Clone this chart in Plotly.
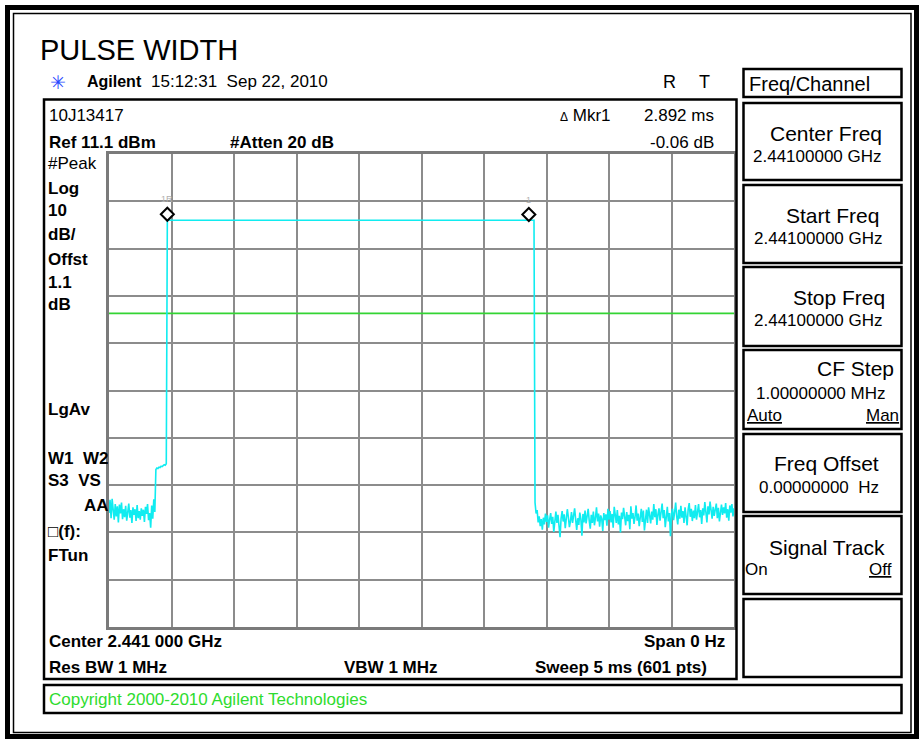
import plotly.graph_objects as go

# ---------------------------------------------------------------------------
# Analyzer settings shown on the screen
# ---------------------------------------------------------------------------
SWEEP_MS = 5.0
SWEEP_POINTS = 601
REF_LEVEL_DBM = 11.1
DB_PER_DIV = 10.0
DIVISIONS = 10

# Zero-span trace, dBm per sweep point, in order of time
PRE_PULSE_NOISE = [
    -64.8, -62.0, -65.9, -61.8, -64.1, -66.2, -62.9, -65.5, -63.4, -66.8,
    -63.0, -64.9, -62.6, -66.1, -64.0, -65.7, -63.3, -66.4, -64.6, -62.8,
    -65.8, -64.2, -66.9, -63.6, -65.2, -64.0, -66.5, -63.1, -65.9, -64.4,
    -66.2, -63.8, -65.4, -64.1, -66.7, -63.5, -65.0, -62.9, -66.3, -64.8,
    -67.9, -63.2, -66.0, -61.9, -64.6,
]
PRE_PULSE_STEP = [
    -55.6, -55.3, -55.4, -55.1, -55.2, -54.9, -55.0, -54.8, -54.6, -54.7, -54.4,
]
PULSE_TOP_DBM = -2.9
PULSE_TOP_SAMPLES = 353
POST_PULSE_NOISE = [
    -62.6, -64.9, -64.2, -66.8, -65.5, -67.6, -66.1, -68.3, -65.8, -67.2, -64.9, -66.7,
    -65.3, -67.9, -66.2, -64.8, -67.1, -65.6, -68.8, -66.4, -64.5, -66.9, -65.2, -67.5,
    -69.9, -66.0, -64.4, -66.6, -65.1, -68.0, -66.3, -64.0, -65.7, -67.8, -66.5, -64.6,
    -66.9, -65.4, -63.8, -66.2, -68.4, -65.9, -67.3, -64.7, -66.1, -69.6, -65.0, -66.8,
    -64.3, -67.0, -65.5, -63.9, -66.4, -68.1, -65.2, -66.9, -64.5, -67.4, -65.8, -63.6,
    -66.6, -64.9, -67.7, -65.3, -66.0, -68.6, -64.8, -66.3, -65.1, -67.5, -63.9, -66.2,
    -64.4, -66.8, -65.0, -67.9, -63.5, -65.7, -66.9, -64.2, -67.2, -65.4, -68.9, -64.7,
    -66.1, -63.7, -65.9, -67.4, -64.6, -66.5, -65.2, -68.2, -63.4, -66.0, -64.8, -67.1,
    -65.6, -63.2, -66.4, -64.9, -67.6, -65.0, -63.9, -66.7, -64.3, -68.5, -65.8, -64.1,
    -66.9, -63.6, -65.3, -67.0, -64.5, -66.2, -62.9, -65.7, -64.0, -67.3, -65.1, -63.8,
    -66.4, -64.7, -62.8, -65.9, -64.2, -67.8, -65.4, -63.5, -66.6, -64.8, -69.7, -65.0,
    -63.9, -66.3, -64.6, -62.6, -65.5, -67.2, -64.1, -66.0, -63.3, -65.8, -64.4, -66.9,
    -63.6, -65.2, -67.4, -64.0, -62.7, -65.6, -63.9, -66.5, -64.3, -65.9, -63.1, -66.2,
    -64.9, -62.9, -65.7, -64.2, -67.1, -63.8, -65.3, -62.5, -64.6, -66.8, -63.4, -65.1,
    -62.4, -64.8, -66.0, -63.5, -65.4, -64.1, -62.8, -65.9, -63.7, -66.6, -64.3, -63.0,
    -65.2, -63.6, -64.9, -62.7, -65.8, -64.0, -66.4, -63.2, -64.7, -62.9, -65.5, -63.8,
]

DISPLAY_LINE_DBM = -22.6

# Delta marker pair
MARKER_REF_INDEX = 56
MARKER_DELTA_MS = 2.892
MARKER_DELTA_DB = -0.06

# ---------------------------------------------------------------------------
trace_dbm = PRE_PULSE_NOISE + PRE_PULSE_STEP + [PULSE_TOP_DBM] * PULSE_TOP_SAMPLES + POST_PULSE_NOISE
time_ms = [i * SWEEP_MS / (SWEEP_POINTS - 1) for i in range(len(trace_dbm))]
bottom_dbm = REF_LEVEL_DBM - DB_PER_DIV * DIVISIONS

W, H = 923, 740
GRID_L, GRID_R, GRID_T, GRID_B = 109, 734, 154, 627
FONT = "Arial, 'Liberation Sans', sans-serif"


def X(px):
    return px / W


def Y(py):
    return 1 - py / H


shapes = []
annotations = []


def rect(x0, y0, x1, y1, width=2.5, color="black"):
    shapes.append(dict(type="rect", xref="paper", yref="paper",
                       x0=X(x0), x1=X(x1), y0=Y(y1), y1=Y(y0),
                       line=dict(color=color, width=width), fillcolor="rgba(0,0,0,0)",
                       layer="above"))


def txt(x, y, s, size=17, bold=False, anchor="left", color="black", width=None, family=FONT):
    annotations.append(dict(
        xref="paper", yref="paper", x=X(x), y=Y(y),
        text=f"<b>{s}</b>" if bold else s, showarrow=False,
        xanchor=anchor, yanchor="middle", align=anchor if anchor != "center" else "center",
        font=dict(family=family, size=size, color=color),
        borderpad=0, width=width,
    ))


fig = go.Figure()

# display line
fig.add_trace(go.Scatter(
    x=[0, SWEEP_MS], y=[DISPLAY_LINE_DBM, DISPLAY_LINE_DBM], mode="lines",
    line=dict(color="#33d433", width=1.6), hoverinfo="skip", showlegend=False))

# measured trace
fig.add_trace(go.Scatter(
    x=time_ms, y=trace_dbm, mode="lines",
    line=dict(color="#10ecf0", width=1.6), hoverinfo="skip", showlegend=False))

# delta markers (diamonds sit just above the trace point)
grid_h_px = GRID_B - GRID_T
lift_db = 6 * (DB_PER_DIV * DIVISIONS) / grid_h_px
t_ref = time_ms[MARKER_REF_INDEX]
y_ref = trace_dbm[MARKER_REF_INDEX]
t_mk1 = t_ref + MARKER_DELTA_MS
y_mk1 = y_ref + MARKER_DELTA_DB
fig.add_trace(go.Scatter(
    x=[t_ref, t_mk1], y=[y_ref + lift_db, y_mk1 + lift_db], mode="markers",
    marker=dict(symbol="diamond", size=10, color="white", line=dict(color="black", width=2)),
    hoverinfo="skip", showlegend=False))
for t, yv, lab in [(t_ref, y_ref, "1R"), (t_mk1, y_mk1, "1")]:
    annotations.append(dict(xref="x", yref="y", x=t, y=yv + lift_db, text=lab,
                            showarrow=False, yshift=15, xanchor="center", yanchor="middle",
                            font=dict(family=FONT, size=9, color="#b0b0b0")))

# ---------------------------------------------------------------------------
# Frames and boxes
# ---------------------------------------------------------------------------
rect(7.5, 7.5, 916.5, 736.5, width=5)
rect(13.5, 13.5, 911, 732.5, width=1.5)
rect(44, 99.5, 736.5, 679)            # measurement window
rect(44, 685, 901.5, 713)             # status line
for y0, y1 in [(69, 97), (103, 180), (185, 263), (267, 346), (350, 429),
               (434, 512), (516, 594), (599, 677)]:
    rect(743.5, y0, 901.5, y1, width=2.5)

# ---------------------------------------------------------------------------
# Screen text
# ---------------------------------------------------------------------------
txt(39, 50, "PULSE WIDTH", size=29)
txt(49, 82, "✳", size=19, color="#2a48ff", family="DejaVu Sans")
txt(86, 82, "Agilent", size=16, bold=True)
txt(150, 82, "15:12:31  Sep 22, 2010", size=17)
txt(662, 82, "R", size=18)
txt(698, 82, "T", size=18)

txt(48, 116, "10J13417", size=17)
txt(48, 142, "Ref 11.1 dBm", size=17, bold=True)
txt(229, 142, "#Atten 20 dB", size=17, bold=True)
txt(612, 116, "<span style='font-size:12px'>Δ</span> Mkr1", size=17, anchor="right")
txt(715, 116, "2.892 ms", size=17, anchor="right")
txt(715, 142, "-0.06 dB", size=17, anchor="right")

txt(47, 164, "#Peak", size=17)
for yy, s in [(188, "Log"), (211, "10"), (235, "dB/"), (259, "Offst"), (282, "1.1"),
              (304, "dB"), (409, "LgAv")]:
    txt(47, yy, s, size=17, bold=True)
txt(47, 458, "W1  W2", size=17, bold=True, width=60)
txt(47, 480, "S3  VS", size=17, bold=True, width=60)
txt(83, 505, "AA", size=17, bold=True)
txt(47, 531, "□(f):", size=17, bold=True)
txt(47, 555, "FTun", size=17, bold=True)

txt(48, 641, "Center 2.441 000 GHz", size=17, bold=True)
txt(726, 641, "Span 0 Hz", size=17, bold=True, anchor="right")
txt(48, 667, "Res BW 1 MHz", size=17, bold=True)
txt(343, 667, "VBW 1 MHz", size=17, bold=True)
txt(708, 667, "Sweep 5 ms (601 pts)", size=17, bold=True, anchor="right")
txt(48, 699, "Copyright 2000-2010 Agilent Technologies", size=17, color="#2edc2e")

# soft keys
txt(748, 84, "Freq/Channel", size=20)
txt(883, 133, "Center Freq", size=21, anchor="right")
txt(883, 156, "2.44100000 GHz", size=17, anchor="right")
txt(880, 215, "Start Freq", size=21, anchor="right")
txt(884, 238, "2.44100000 GHz", size=17, anchor="right")
txt(886, 297, "Stop Freq", size=21, anchor="right")
txt(884, 320, "2.44100000 GHz", size=17, anchor="right")
txt(895, 368, "CF Step", size=21, anchor="right")
txt(886, 393, "1.00000000 MHz", size=17, anchor="right")
txt(746, 415, "<u>Auto</u>", size=17)
txt(900, 415, "<u>Man</u>", size=17, anchor="right")
txt(880, 463, "Freq Offset", size=21, anchor="right")
txt(880, 487, "0.00000000  Hz", size=17, anchor="right")
txt(886, 547, "Signal Track", size=21, anchor="right")
txt(744, 569, "On", size=17)
txt(893, 569, "<u>Off</u>", size=17, anchor="right")

# ---------------------------------------------------------------------------
fig.update_layout(
    width=W, height=H, autosize=False,
    margin=dict(l=0, r=0, t=0, b=0),
    paper_bgcolor="white", plot_bgcolor="white",
    shapes=shapes, annotations=annotations, showlegend=False,
    hovermode=False,
    xaxis=dict(domain=[X(GRID_L), X(GRID_R)], range=[0, SWEEP_MS],
               tick0=0, dtick=SWEEP_MS / DIVISIONS, showgrid=True,
               gridcolor="#8c8c8c", gridwidth=2, zeroline=False,
               showticklabels=False, ticks="", showline=True, mirror=True,
               linecolor="#7a7a7a", linewidth=3, fixedrange=True),
    yaxis=dict(domain=[Y(GRID_B), Y(GRID_T)], range=[bottom_dbm, REF_LEVEL_DBM],
               tick0=REF_LEVEL_DBM, dtick=DB_PER_DIV, showgrid=True,
               gridcolor="#8c8c8c", gridwidth=2, zeroline=False,
               showticklabels=False, ticks="", showline=True, mirror=True,
               linecolor="#7a7a7a", linewidth=3, fixedrange=True),
)

fig.write_html("out.html", config={"displayModeBar": False})
